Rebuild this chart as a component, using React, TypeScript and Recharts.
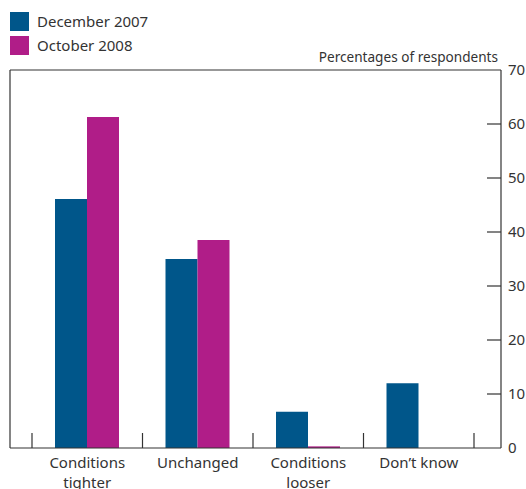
import { BarChart, Bar, XAxis, YAxis, CartesianGrid } from "recharts"

const categories = ["Conditions\ntighter", "Unchanged", "Conditions\nlooser", "Don\u2019t know"]
const dec2007 = [46.1, 35.0, 6.7, 12.0]
const oct2008 = [61.3, 38.5, 0.3, 0]
const yTicks = [0, 10, 20, 30, 40, 50, 60, 70]

const BLUE = "#00568a"
const MAGENTA = "#b01d88"
const INK = "#333333"
const FONT = "'Noto Sans', 'Open Sans', sans-serif"

const data = categories.map((c, i) => ({ name: c, dec: dec2007[i], oct: oct2008[i] }))

function RightTick(props: any) {
  const { x, y, payload } = props
  const v = payload.value as number
  return (
    <g>
      {v > 0 && v < 70 && <line x1={x - 14} x2={x} y1={y} y2={y} stroke={INK} strokeWidth={1.2} />}
      <text x={x + 7} y={y} dy={5} fontSize={15} fill={INK} fontFamily={FONT}>
        {v}
      </text>
    </g>
  )
}

function CategoryTick(props: any) {
  const { x, y, payload, index, visibleTicksCount } = props
  const half = payload.offset ?? 55.25
  const lines = String(payload.value).split("\n")
  const last = index === visibleTicksCount - 1
  return (
    <g>
      <line x1={x - half} x2={x - half} y1={y} y2={y - 15} stroke={INK} strokeWidth={1.2} />
      {last && <line x1={x + half} x2={x + half} y1={y} y2={y - 15} stroke={INK} strokeWidth={1.2} />}
      {lines.map((l, i) => (
        <text key={i} x={x} y={y + 20 + i * 19.5} textAnchor="middle" fontSize={15} fill={INK} fontFamily={FONT}>
          {l}
        </text>
      ))}
    </g>
  )
}

const legendItems = [
  { label: "December 2007", color: BLUE },
  { label: "October 2008", color: MAGENTA },
]

export default function App() {
  return (
    <div style={{ position: "absolute", left: 0, top: 0, width: 526, height: 489 }}>
      <div style={{ position: "absolute", left: 10, top: 9, fontFamily: FONT, fontSize: 15, color: INK }}>
        {legendItems.map((it) => (
          <div key={it.label} style={{ display: "flex", alignItems: "center", height: 24 }}>
            <span style={{ width: 19, height: 19, background: it.color, marginRight: 8, display: "inline-block" }} />
            {it.label}
          </div>
        ))}
      </div>
      <div
        style={{
          position: "absolute",
          right: 28,
          top: 47,
          fontFamily: FONT,
          fontSize: 13.6,
          color: INK,
        }}
      >
        Percentages of respondents
      </div>
      <BarChart
        width={526}
        height={489}
        data={data}
        margin={{ top: 70, right: 0, bottom: 0, left: 10 }}
        barGap={0}
        barSize={32}
      >
        {/* solid frame on the left and top of the plot */}
        <CartesianGrid
          stroke={INK}
          strokeWidth={1.2}
          horizontalCoordinatesGenerator={({ offset }: any) => [offset.top]}
          verticalCoordinatesGenerator={({ offset }: any) => [offset.left]}
        />
        <XAxis
          dataKey="name"
          height={41}
          padding={{ left: 22, right: 27 }}
          tickSize={0}
          tickMargin={0}
          tickLine={false}
          axisLine={{ stroke: INK, strokeWidth: 1.2 }}
          interval={0}
          tick={<CategoryTick />}
        />
        <YAxis
          orientation="right"
          width={25}
          domain={[0, 70]}
          ticks={yTicks}
          tickSize={0}
          tickMargin={0}
          tickLine={false}
          axisLine={{ stroke: INK, strokeWidth: 1.2 }}
          tick={<RightTick />}
        />
        <Bar dataKey="dec" fill={BLUE} isAnimationActive={false} />
        <Bar dataKey="oct" fill={MAGENTA} isAnimationActive={false} />
      </BarChart>
    </div>
  )
}
